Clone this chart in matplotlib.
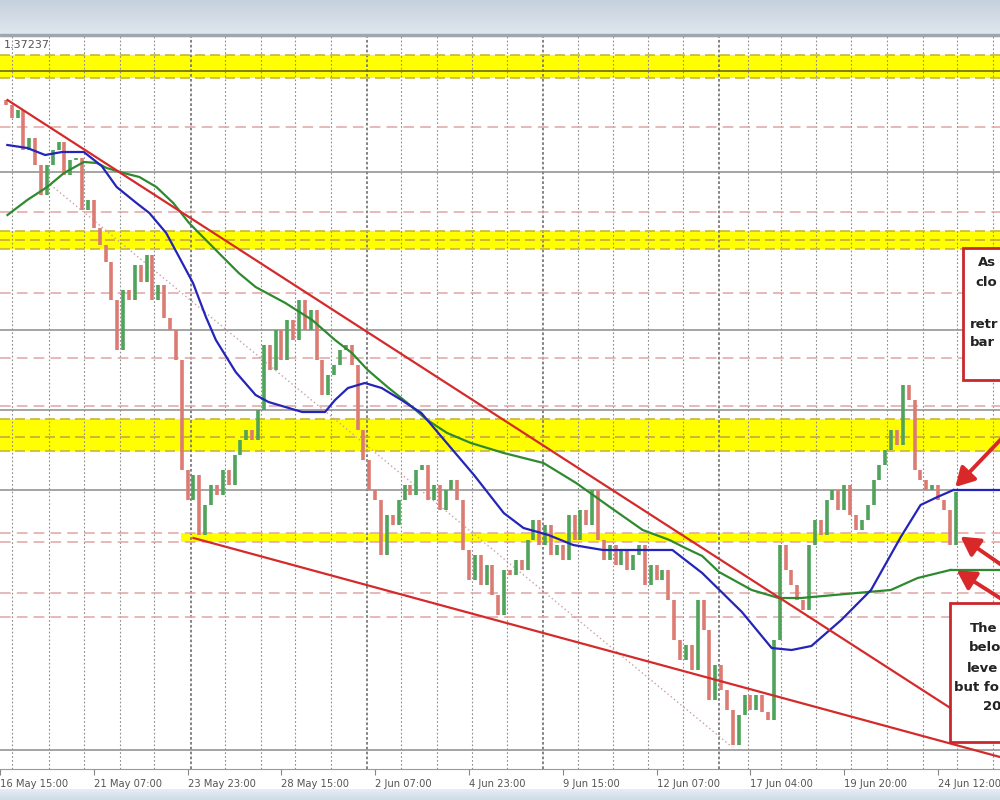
import numpy as np
import matplotlib
matplotlib.use("Agg")
import matplotlib.pyplot as plt
from matplotlib.patches import Rectangle
from matplotlib.colors import LinearSegmentedColormap
import matplotlib.transforms as mtransforms

# H1 chart, x = bar number (bar 0 = 16 May 15:00), one close read every 4 bars
first_open = 1.39200
closes = [
    1.39175, 1.39110, 1.39150, 1.38950, 1.39010, 1.38875, 1.38725, 1.38875, 1.38950, 1.38990,
    1.38825, 1.38900, 1.38910, 1.38650, 1.38700, 1.38560, 1.38475, 1.38390, 1.38200, 1.37950,
    1.38250, 1.38200, 1.38375, 1.38290, 1.38425, 1.38200, 1.38275, 1.38110, 1.38050, 1.37900,
    1.37350, 1.37200, 1.37325, 1.37025, 1.37175, 1.37275, 1.37225, 1.37350, 1.37275, 1.37425,
    1.37500, 1.37550, 1.37500, 1.37650, 1.37975, 1.37850, 1.38050, 1.37900, 1.38100, 1.38000,
    1.38200, 1.38050, 1.38150, 1.37900, 1.37725, 1.37825, 1.37875, 1.37950, 1.37975, 1.37875,
    1.37550, 1.37400, 1.37250, 1.37200, 1.36925, 1.37125, 1.37075, 1.37200, 1.37275, 1.37225,
    1.37350, 1.37375, 1.37200, 1.37275, 1.37150, 1.37250, 1.37300, 1.37200, 1.36950, 1.36800,
    1.36925, 1.36775, 1.36875, 1.36725, 1.36625, 1.36850, 1.36825, 1.36900, 1.36850, 1.37000,
    1.37100, 1.36975, 1.37075, 1.36925, 1.36975, 1.36900, 1.37125, 1.37000, 1.37150, 1.37075,
    1.37250, 1.37000, 1.36900, 1.36975, 1.36875, 1.36950, 1.36850, 1.36925, 1.36975, 1.36775,
    1.36875, 1.36800, 1.36850, 1.36700, 1.36500, 1.36400, 1.36475, 1.36350, 1.36700, 1.36550,
    1.36200, 1.36375, 1.36250, 1.36150, 1.35975, 1.36125, 1.36225, 1.36150, 1.36225, 1.36140,
    1.36100, 1.36500, 1.36975, 1.36850, 1.36775, 1.36700, 1.36650, 1.36975, 1.37100, 1.37025,
    1.37200, 1.37250, 1.37150, 1.37275, 1.37125, 1.37050, 1.37100, 1.37175, 1.37300, 1.37375,
    1.37450, 1.37550, 1.37475, 1.37775, 1.37700, 1.37350, 1.37300, 1.37250, 1.37275, 1.37200,
    1.37150, 1.36975, 1.37240,
]
bars = np.arange(4, 4 * len(closes) + 1, 4)

# moving averages (blue = faster, green = slower)
blue_bars = [5, 18.6, 30.8, 42.3, 57.2, 69.4, 79.6, 93.1, 101.9, 113.4, 122.2, 131.7, 140.5,
             147.3, 160.8, 174.4, 183.2, 206.2, 221.8, 228.6, 237.4, 248.9, 260.4, 273.9,
             287.5, 303.1, 323.4, 343.7, 357.2, 374.2, 391.1, 411.4, 438.5, 458.8, 467.6,
             479.1, 506.2, 526.5, 540.1, 553.6, 574.0, 594.3, 614.6, 628.1, 639.6, 650.5]
blue_ma = [1.38975, 1.38960, 1.38925, 1.38940, 1.38940, 1.38870, 1.38765, 1.38685, 1.38635,
           1.38535, 1.38415, 1.38285, 1.38115, 1.38000, 1.37840, 1.37725, 1.37690, 1.37640,
           1.37640, 1.37700, 1.37760, 1.37785, 1.37760, 1.37700, 1.37635, 1.37500, 1.37325,
           1.37135, 1.37060, 1.37025, 1.36975, 1.36950, 1.36950, 1.36950, 1.36900, 1.36835,
           1.36640, 1.36460, 1.36450, 1.36470, 1.36600, 1.36750, 1.37015, 1.37175, 1.37215,
           1.37250]
green_bars = [5.1, 18.6, 32.2, 43.7, 57.2, 66.0, 72.8, 84.3, 95.1, 106.7, 118.2, 129.0, 140.5,
              152.0, 162.9, 174.4, 194.7, 213.0, 228.6, 240.1, 250.9, 264.4, 278.0, 291.5,
              305.1, 321.3, 343.7, 370.8, 393.1, 416.1, 438.5, 456.8, 467.6, 479.1, 490.6,
              512.9, 531.3, 546.8, 569.2, 592.2, 607.8, 626.1, 648.4]
green_ma = [1.38625, 1.38700, 1.38765, 1.38835, 1.38890, 1.38885, 1.38860, 1.38835, 1.38815,
            1.38765, 1.38685, 1.38585, 1.38500, 1.38415, 1.38335, 1.38265, 1.38185, 1.38100,
            1.38000, 1.37935, 1.37850, 1.37765, 1.37685, 1.37600, 1.37535, 1.37485, 1.37435,
            1.37385, 1.37285, 1.37165, 1.37050, 1.37000, 1.36960, 1.36920, 1.36840, 1.36750,
            1.36710, 1.36710, 1.36725, 1.36740, 1.36750, 1.36810, 1.36850]

tick_bars = [0, 64, 128, 192, 256, 320, 384, 448, 512, 576, 640]
tick_labels = ["16 May 15:00", "21 May 07:00", "23 May 23:00", "28 May 15:00", "2 Jun 07:00",
               "4 Jun 23:00", "9 Jun 15:00", "12 Jun 07:00", "17 Jun 04:00", "19 Jun 20:00",
               "24 Jun 12:00"]
grid_bars = [8.5, 33.5, 57.2, 81.6, 105.3, 153.4, 178.4, 201.5, 225.9, 273.9, 298.3, 322.0,
             345.7, 394.5, 418.2, 441.9, 466.3, 510.3, 532.6, 557.0, 580.7, 605.1, 629.5,
             653.2, 677.6]
week_bars = [130.4, 250.2, 370.8, 490.6]

# support / resistance zones (low, high, middle)
yellow_zones = [(1.39310, 1.39425, 1.39345), (1.38455, 1.38545, 1.38500),
                (1.37445, 1.37605, 1.37515)]
low_zone = (1.36990, 1.37035)
low_zone_bars = (123.6, 647.0)
pink_levels = [1.39065, 1.38640, 1.38235, 1.37910, 1.37670, 1.37035, 1.36990, 1.36735, 1.36615]
grey_levels = [1.38840, 1.38050, 1.37650, 1.37250, 1.35950]

upper_trend = ([5.1, 682.3], [1.39200, 1.36000])
lower_trend = ([132.0, 682.3], [1.37010, 1.35915])
channel_line = ([32.2, 499.5], [1.38790, 1.35965])

# box texts as far as they show before the right edge
box1_lines = ["As", "clo", "retr", "bar"]
box2_lines = ["The", "belo", "leve", "but fo", "20"]

RED = "#d42a2a"

fig = plt.figure(figsize=(10, 8), dpi=100)
fig.patch.set_facecolor("white")

# window header and footer strips
hax = fig.add_axes([0, 1 - 34 / 800, 1, 34 / 800])
hcm = LinearSegmentedColormap.from_list("h", ["#c5d1de", "#dfe6ee"])
hax.imshow(np.linspace(0, 1, 50).reshape(-1, 1), aspect="auto", cmap=hcm)
hax.axis("off")
fig.patches.append(Rectangle((0, 1 - 36 / 800), 1, 2 / 800, transform=fig.transFigure,
                             color="#9ea7b1", zorder=5))
fax = fig.add_axes([0, 0, 1, 11 / 800])
fcm = LinearSegmentedColormap.from_list("f", ["#e6edf5", "#cfdbe8"])
fax.imshow(np.linspace(0, 1, 20).reshape(-1, 1), aspect="auto", cmap=fcm)
fax.axis("off")

ax = fig.add_axes([0, 31 / 800, 1, 733 / 800])
ax.set_xlim(5.08, 682.3)
ax.set_ylim(1.35855, 1.39520)

for lo, hi, mid in yellow_zones:
    ax.axhspan(lo, hi, color="#ffff00", zorder=1, lw=0)
    ax.axhline(lo, color="#c9b43c", ls=(0, (6, 3)), lw=1.2, zorder=2)
    ax.axhline(hi, color="#c9b43c", ls=(0, (6, 3)), lw=1.2, zorder=2)
ax.axhline(yellow_zones[0][2], color="#6e6a10", lw=1.2, zorder=2)
for lo, hi, mid in yellow_zones[1:]:
    ax.axhline(mid, color="#c9a83c", ls=(0, (6, 3)), lw=1.2, zorder=2)
ax.fill_between(low_zone_bars, low_zone[0], low_zone[1], color="#ffff00", zorder=1, lw=0)

for b in grid_bars:
    ax.axvline(b, color="#8a8a8a", ls=(0, (1.5, 2)), lw=0.8, zorder=1.5)
for b in week_bars:
    ax.axvline(b, color="#7a7a7a", ls=(0, (1.5, 1.2)), lw=1.3, zorder=1.5)
for y in pink_levels:
    ax.axhline(y, color="#e2a4a4", ls=(0, (7, 4)), lw=1.1, zorder=2)
for y in grey_levels:
    ax.axhline(y, color="#8c8c8c", lw=1.1, zorder=2)

# candles
opens = np.array([first_open] + closes[:-1])
cl = np.array(closes)
cols = np.where(cl >= opens, "#4fa35a", "#dc7b72")
ax.vlines(bars, np.minimum(opens, cl), np.maximum(opens, cl), colors=cols, lw=2.6, zorder=3)

ax.plot(channel_line[0], channel_line[1], color="#c9a0a0", ls=(0, (1, 2)), lw=1, zorder=2.5)
ax.plot(green_bars, green_ma, color="#2f8a2f", lw=1.6, zorder=4)
ax.hlines(green_ma[-1], green_bars[-1], 690, color="#2f8a2f", lw=1.6, zorder=4)
ax.plot(blue_bars, blue_ma, color="#2424b8", lw=1.6, zorder=4)
ax.hlines(blue_ma[-1], blue_bars[-1], 690, color="#2424b8", lw=1.6, zorder=4)
ax.plot(upper_trend[0], upper_trend[1], color=RED, lw=1.6, zorder=5)
ax.plot(lower_trend[0], lower_trend[1], color=RED, lw=1.6, zorder=5)

# annotation boxes (cut off by the right edge)
ax.add_patch(Rectangle((657.2, 1.37800), 40, 0.00660, facecolor="white", edgecolor="#c8282c",
                       lw=2, zorder=6))
ax.add_patch(Rectangle((648.4, 1.35990), 45, 0.00695, facecolor="white", edgecolor="#c8282c",
                       lw=2, zorder=6))
box_txt = dict(fontsize=9.5, fontweight="bold", color="#222222", va="center", ha="left",
               zorder=7)
for x, y, s in zip([667.5, 665.5, 661.5, 661.5], [1.38385, 1.38285, 1.38075, 1.37985],
                   box1_lines):
    ax.text(x, y, s, **box_txt)
for x, y, s in zip([661.5, 661.0, 659.5, 651.0, 670.5],
                   [1.36560, 1.36460, 1.36360, 1.36260, 1.36165], box2_lines):
    ax.text(x, y, s, **box_txt)

arrow = dict(arrowstyle="-|>,head_width=0.45,head_length=0.8", color="#d8282a", lw=2.8,
             mutation_scale=14)
for head, tail in [((650.5, 1.37255), (684.4, 1.37515)),
                   ((653.8, 1.37025), (684.4, 1.36870)),
                   ((651.1, 1.36855), (684.4, 1.36700))]:
    ax.annotate("", xy=head, xytext=tail, arrowprops=arrow, zorder=8, annotation_clip=False)

ax.set_yticks([])
ax.set_xticks(tick_bars)
ax.set_xticklabels(tick_labels, ha="left", fontsize=7.2, color="#555555")
off = mtransforms.ScaledTranslation(1 / 72, 0, fig.dpi_scale_trans)
for lbl in ax.get_xticklabels():
    lbl.set_transform(lbl.get_transform() + off)
ax.tick_params(axis="x", length=4, color="#888888", pad=3)
for side in ["left", "right"]:
    ax.spines[side].set_visible(False)
ax.spines["top"].set_color("#9a9a9a")
ax.spines["bottom"].set_color("#9a9a9a")

fig.text(0.004, 1 - 45 / 800, "1.37237", fontsize=8, color="#555555", va="center")

fig.savefig("out.png", dpi=100)
